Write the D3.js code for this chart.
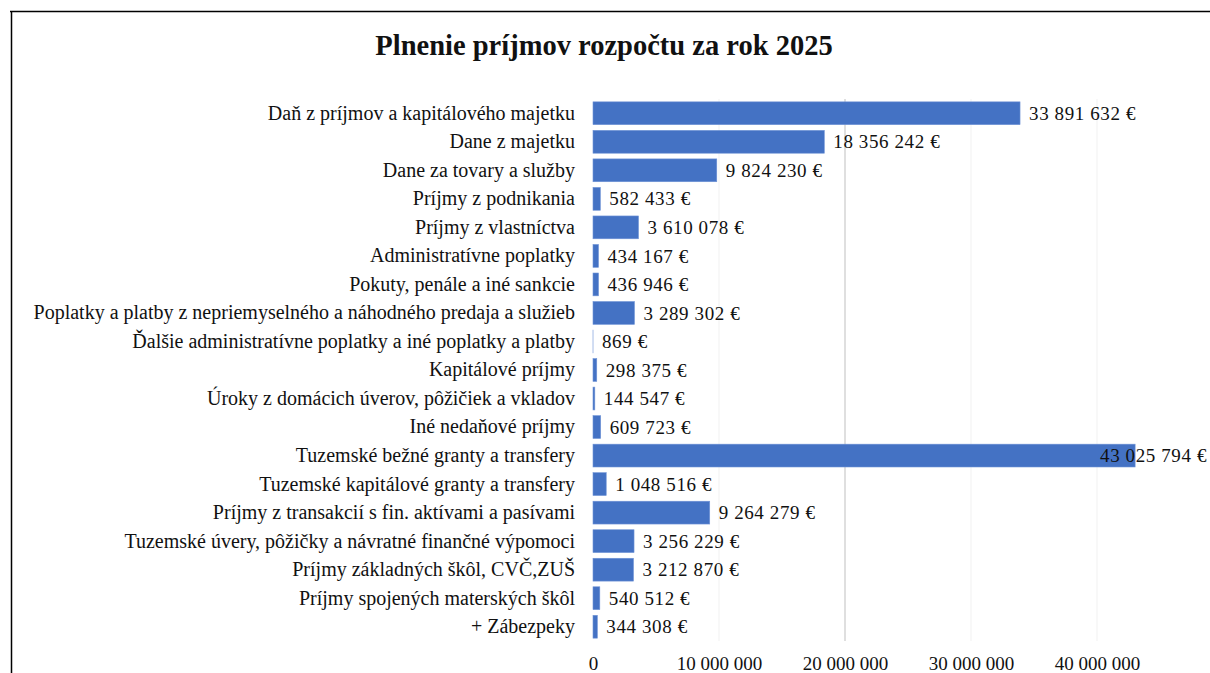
<!DOCTYPE html>
<html>
<head>
<meta charset="utf-8">
<script src="https://cdn.jsdelivr.net/npm/d3@7"></script>
<style>
  body { margin: 0; background: #fff; }
  svg { display: block; font-family: "Liberation Serif", "Times New Roman", serif; }
  text { font-family: "Liberation Serif", "Times New Roman", serif; fill: #111; }
</style>
</head>
<body>
<svg width="1210" height="673"></svg>
<script>
const svg = d3.select('svg');
const width = +svg.attr('width');
const height = +svg.attr('height');

const title = 'Plnenie príjmov rozpočtu za rok 2025';

const categories = [
  'Daň z príjmov a kapitálového majetku',
  'Dane z majetku',
  'Dane za tovary a služby',
  'Príjmy z podnikania',
  'Príjmy z vlastníctva',
  'Administratívne poplatky',
  'Pokuty, penále a iné sankcie',
  'Poplatky a platby z nepriemyselného a náhodného predaja a služieb',
  'Ďalšie administratívne poplatky a iné poplatky a platby',
  'Kapitálové príjmy',
  'Úroky z domácich úverov, pôžičiek a vkladov',
  'Iné nedaňové príjmy',
  'Tuzemské bežné granty a transfery',
  'Tuzemské kapitálové granty a transfery',
  'Príjmy z transakcií s fin. aktívami a pasívami',
  'Tuzemské úvery, pôžičky a návratné finančné výpomoci',
  'Príjmy základných škôl, CVČ,ZUŠ',
  'Príjmy spojených materských škôl',
  '+ Zábezpeky'
];

const values = [
  33891632, 18356242, 9824230, 582433, 3610078, 434167, 436946, 3289302,
  869, 298375, 144547, 609723, 43025794, 1048516, 9264279, 3256229,
  3212870, 540512, 344308
];

const xTicks = [0, 10000000, 20000000, 30000000, 40000000];

const data = categories.map((c, i) => ({ name: c, value: values[i] }));

const serif = '"Liberation Serif", "Times New Roman", serif';
const margin = { top: 99, left: 593 };
const plotW = 630;
const plotH = 542;

const fmt = v => d3.format(',')(v).replace(/,/g, ' ');

// frame lines
svg.append('line')
  .attr('x1', 10).attr('x2', width).attr('y1', 11.5).attr('y2', 11.5)
  .attr('stroke', '#000').attr('stroke-width', 1.5);
svg.append('line')
  .attr('x1', 11.5).attr('x2', 11.5).attr('y1', 11).attr('y2', height)
  .attr('stroke', '#000').attr('stroke-width', 1.5);

svg.append('text')
  .attr('x', 604)
  .attr('y', 55)
  .attr('text-anchor', 'middle')
  .attr('font-family', serif)
  .style('font-size', '28.5px')
  .style('font-weight', 'bold')
  .text(title);

const g = svg.append('g')
  .attr('transform', `translate(${margin.left},${margin.top})`);

const xScale = d3.scaleLinear()
  .domain([0, 50000000])
  .range([0, plotW]);

const yScale = d3.scaleBand()
  .domain(categories)
  .range([0, plotH])
  .paddingInner(0.2)
  .paddingOuter(0.1);

// gridlines
g.selectAll('.grid')
  .data(xTicks.slice(1))
  .enter().append('line')
  .attr('class', 'grid')
  .attr('x1', d => xScale(d)).attr('x2', d => xScale(d))
  .attr('y1', 0).attr('y2', plotH)
  .attr('stroke', d => d === 20000000 ? '#d4d4d4' : '#f6f6f6')
  .attr('stroke-width', 1.5);

// x axis
const xAxis = d3.axisBottom(xScale)
  .tickValues(xTicks)
  .tickFormat(fmt)
  .tickSize(0)
  .tickPadding(16);

const xAxisG = g.append('g')
  .attr('transform', `translate(0,${plotH})`)
  .call(xAxis)
  .attr('font-family', serif)
  .attr('font-size', 19);
xAxisG.select('.domain').remove();
xAxisG.selectAll('text').attr('fill', '#111');

// y axis labels
const yAxis = d3.axisLeft(yScale).tickSize(0).tickPadding(18);
const yAxisG = g.append('g').call(yAxis)
  .attr('font-family', serif)
  .attr('font-size', 20);
yAxisG.select('.domain').remove();
yAxisG.selectAll('text').attr('fill', '#111');

// bars
g.selectAll('.bar')
  .data(data)
  .enter().append('rect')
  .attr('class', 'bar')
  .attr('x', 0)
  .attr('y', d => yScale(d.name))
  .attr('width', d => xScale(d.value))
  .attr('height', yScale.bandwidth())
  .attr('fill', '#4472C4')
  .attr('stroke', '#6f93d6')
  .attr('stroke-width', 0.6);

// value labels
const labels = g.selectAll('.val')
  .data(data)
  .enter().append('text')
  .attr('class', 'val')
  .attr('y', d => yScale(d.name) + yScale.bandwidth() / 2)
  .attr('dy', '0.35em')
  .attr('font-family', serif)
  .style('font-size', '19px')
  .style('letter-spacing', '0.6px')
  .text(d => fmt(d.value) + ' €');

labels.each(function(d) {
  const w = this.getComputedTextLength();
  const x = Math.min(xScale(d.value) + 9, width - margin.left - w - 3);
  d3.select(this).attr('x', x);
});
</script>
</body>
</html>
